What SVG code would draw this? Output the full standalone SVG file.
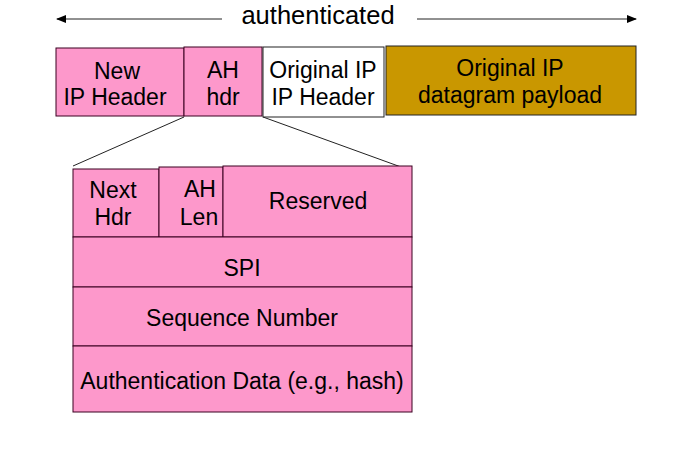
<svg xmlns="http://www.w3.org/2000/svg" width="698" height="460" viewBox="0 0 698 460">
<style>
text{font-family:"Liberation Sans",Arial,sans-serif;font-size:23px;fill:#000;text-anchor:middle}
.pink{fill:#FD98CB;stroke:#3a0020;stroke-width:1}
.white{fill:#fff;stroke:#222;stroke-width:1}
.gold{fill:#C99700;stroke:#222;stroke-width:1}
.ln{stroke:#222;stroke-width:1;fill:none}
</style>
<defs>
<marker id="ah" markerWidth="10" markerHeight="8" refX="9" refY="4" orient="auto" markerUnits="userSpaceOnUse">
<path d="M0,0 L10,4 L0,8 z" fill="#000"/>
</marker>
</defs>
<rect width="698" height="460" fill="#fff"/>
<g id="connectors">
<line class="ln" x1="222" y1="19" x2="57" y2="19" marker-end="url(#ah)"/>
<line class="ln" x1="417" y1="19" x2="636" y2="19" marker-end="url(#ah)"/>
<line class="ln" x1="184" y1="117" x2="73" y2="166"/>
<line class="ln" x1="263" y1="117" x2="401" y2="167"/>
</g>
<g id="label-authenticated"><text x="318" y="24" style="font-size:25.5px">authenticated</text></g>
<g id="new-ip-header">
<rect class="pink" x="56" y="48" width="128" height="68"/>
<text x="117" y="79">New</text><text x="115" y="105">IP Header</text>
</g>
<g id="ah-hdr">
<rect class="pink" x="184" y="47" width="78" height="69"/>
<text x="223" y="78">AH</text><text x="223" y="105">hdr</text>
</g>
<g id="orig-ip-header">
<rect class="white" x="263" y="47" width="121" height="70"/>
<text x="323" y="78">Original IP</text><text x="323" y="105">IP Header</text>
</g>
<g id="payload">
<rect class="gold" x="386" y="46" width="250" height="69"/>
<text x="510" y="76">Original IP</text><text x="510" y="103">datagram payload</text>
</g>
<g id="next-hdr">
<rect class="pink" x="73" y="169" width="86" height="68"/>
<text x="113" y="198">Next</text><text x="113" y="225">Hdr</text>
</g>
<g id="ah-len">
<rect class="pink" x="159" y="167" width="64" height="70"/>
<text x="200" y="197">AH</text><text x="199" y="225">Len</text>
</g>
<g id="reserved">
<rect class="pink" x="223" y="166" width="189" height="71"/>
<text x="318" y="209">Reserved</text>
</g>
<g id="spi">
<rect class="pink" x="73" y="237" width="339" height="50"/>
<text x="242" y="276">SPI</text>
</g>
<g id="seq">
<rect class="pink" x="73" y="287" width="339" height="59"/>
<text x="242" y="326">Sequence Number</text>
</g>
<g id="auth-data">
<rect class="pink" x="73" y="346" width="339" height="66"/>
<text x="242" y="389">Authentication Data (e.g., hash)</text>
</g>
</svg>
